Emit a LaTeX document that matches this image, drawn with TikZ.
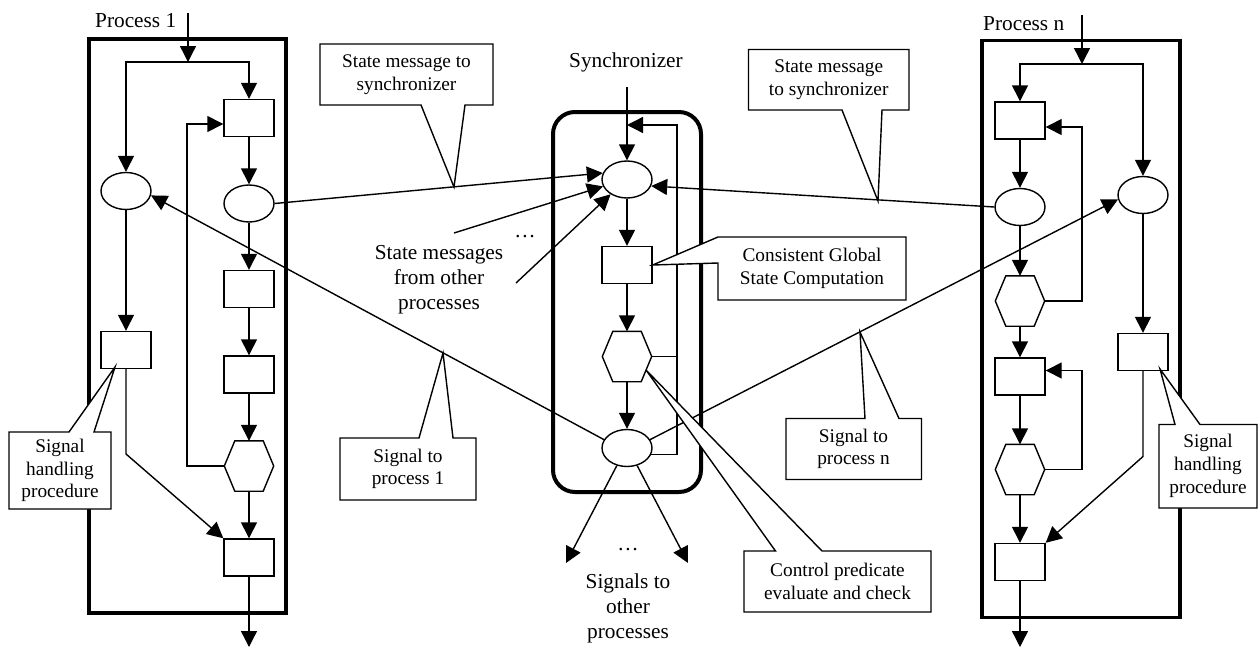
\documentclass[tikz,border=0pt]{standalone}
\usepackage{fontspec}
\setmainfont{Liberation Serif}
\usetikzlibrary{arrows.meta,shapes.geometric}

% outline of a flat-topped hexagon drawn over a rectangular node
\newcommand\drawhexagon[1]{%
  \draw[ln,fill=white] (#1.west) -- ([xshift=10.5pt]#1.north west) -- ([xshift=-10.5pt]#1.north east)
    -- (#1.east) -- ([xshift=-10.5pt]#1.south east) -- ([xshift=10.5pt]#1.south west) -- cycle;}

\begin{document}
\begin{tikzpicture}[x=1pt,y=-1pt,
  ln/.style={line width=1.4pt},
  arr/.style={ln,-{Triangle[length=16pt,width=16pt]}},
  box/.style={draw,ln,fill=white,minimum width=50pt,minimum height=37pt,inner sep=0pt},
  oval/.style={ellipse,draw,ln,fill=white,minimum width=50pt,minimum height=37pt,inner sep=0pt},
  hexa/.style={rectangle,minimum width=49pt,minimum height=50pt,inner sep=0pt},
  pframe/.style={line width=3.3pt},
  balloon/.style={draw,ln,fill=white},
  ctext/.style={align=center,font=\fontsize{19.3}{22.7}\selectfont,inner sep=0pt},
  freetext/.style={align=center,font=\fontsize{21.3}{25}\selectfont,inner sep=0pt}]
\useasboundingbox (0,0) rectangle (1259,648);

% ---------- frames ----------
\draw[pframe] (89,39) rectangle (286,613);
\draw[pframe] (982,40.5) rectangle (1180,617.5);
\draw[line width=4pt,rounded corners=22pt] (553,112) rectangle (701,492);

% ---------- Process 1 ----------
\node[box]  (p1a) at (249,118) {};
\node[oval] (p1e1) at (126,191) {};
\node[oval] (p1e2) at (249,203.5) {};
\node[box]  (p1b) at (249,289) {};
\node[box]  (p1s) at (126,350) {};
\node[box]  (p1c) at (249,374.5) {};
\node[hexa] (p1h) at (249,466) {};
\drawhexagon{p1h}
\node[box]  (p1d) at (249,557.5) {};
\coordinate (p1in) at (188,13);
\coordinate (p1fork) at (188,62);
\coordinate (p1loop) at (187,124);
\coordinate (p1bend) at (126,454);
\coordinate (p1out) at (249,647);

\draw[arr] (p1in) -- (p1fork);
\draw[arr] (p1fork) -| (p1e1);
\draw[arr] (p1fork) -| (p1a);
\draw[arr] (p1a) -- (p1e2);
\draw[arr] (p1e2) -- (p1b);
\draw[arr] (p1b) -- (p1c);
\draw[arr] (p1c) -- (p1h);
\draw[arr] (p1h) -- (p1d);
\draw[arr] (p1d) -- (p1out);
\draw[arr] (p1h.west) -| (p1loop) -- (p1loop -| p1a.west);
\draw[arr] (p1e1) -- (p1s);
\draw[arr] (p1s) -- (p1bend) -- (p1d.north west);

% ---------- Synchronizer ----------
\node[oval] (sa) at (627,179.5) {};
\node[box]  (sb) at (627,265) {};
\node[hexa] (sc) at (627,356.5) {};
\drawhexagon{sc}
\node[oval] (sd) at (627,448) {};
\coordinate (sin) at (627,87);
\coordinate (sloop) at (677,125);
\coordinate (sm1) at (454,233);
\coordinate (sm2) at (516,283);
\coordinate (so1) at (566,563);
\coordinate (so2) at (688,563);

\draw[arr] (sin) -- (sa);
\draw[arr] (sa) -- (sb);
\draw[arr] (sb) -- (sc);
\draw[arr] (sc) -- (sd);
\draw[arr] (sd.-15) -| (sloop) -- (sloop -| sin);
\draw[ln] (sc.east) -- (sc.east -| sloop);
\draw[arr] (sm1) -- (sa.196);
\draw[arr] (sm2) -- (sa.222);
\draw[arr] (sd.240) -- (so1);
\draw[arr] (sd.300) -- (so2);

% ---------- Process n ----------
\node[box]  (pna) at (1020,120.5) {};
\node[oval] (pne1) at (1143,195) {};
\node[oval] (pne2) at (1020,207) {};
\node[hexa] (pnh1) at (1020,301) {};
\drawhexagon{pnh1}
\node[box]  (pnb) at (1020,376.5) {};
\node[hexa] (pnh2) at (1020,469.5) {};
\drawhexagon{pnh2}
\node[box]  (pnc) at (1020,562) {};
\node[box]  (pns) at (1143,352) {};
\coordinate (pnin) at (1082,15);
\coordinate (pnfork) at (1082,64);
\coordinate (pnloopa) at (1082,127);
\coordinate (pnloopb) at (1082,370.5);
\coordinate (pnbend) at (1143,456.5);
\coordinate (pnout) at (1020,647);

\draw[arr] (pnin) -- (pnfork);
\draw[arr] (pnfork) -| (pna);
\draw[arr] (pnfork) -| (pne1);
\draw[arr] (pna) -- (pne2);
\draw[arr] (pne2) -- (pnh1);
\draw[arr] (pnh1) -- (pnb);
\draw[arr] (pnb) -- (pnh2);
\draw[arr] (pnh2) -- (pnc);
\draw[arr] (pnc) -- (pnout);
\draw[arr] (pnh1.east) -| (pnloopa) -- (pnloopa -| pna.east);
\draw[arr] (pnh2.east) -| (pnloopb) -- (pnloopb -| pnb.east);
\draw[arr] (pne1) -- (pns);
\draw[arr] (pns) -- (pnbend) -- (pnc.north east);

% ---------- messages between processes and synchronizer ----------
\draw[arr] (p1e2.east) -- (sa.165);
\draw[arr] (pne2.west) -- (sa.-15);
\draw[arr] (sd.160) -- (p1e1.-10);
\draw[arr] (sd.20) -- (pne1.190);

% ---------- free labels ----------
\node[freetext,anchor=base west] (lp1) at (95,27) {Process 1};
\node[freetext,anchor=base west] (lpn) at (983,30) {Process n};
\node[freetext,anchor=base] (lsync) at (626,67) {Synchronizer};
\node[freetext] (lsm) at (439,280) {State messages\\from other\\processes};
\node[freetext] (lso) at (628,608) {Signals to\\other\\processes};
\node[freetext,anchor=base] (dots1) at (525,237) {\dots};
\node[freetext,anchor=base] (dots2) at (628,550) {\dots};

% ---------- callouts ----------
\draw[balloon] (320,44) -- (493,44) -- (493,105) -- (465,105) -- (454,187) -- (421,105) -- (320,105) -- cycle;
\node[ctext] (c1) at (406.5,75) {State message to\\synchronizer};

\draw[balloon] (748.5,49.5) -- (909,49.5) -- (909,110) -- (882,110) -- (878,201) -- (842,110) -- (748.5,110) -- cycle;
\node[ctext] (c2) at (828.7,80) {State message\\to synchronizer};

\draw[balloon] (718,237) -- (906,237) -- (906,300) -- (718,300) -- (718,263) -- (sb.east) -- cycle;
\node[ctext] (c3) at (812,268.5) {Consistent Global\\State Computation};

\draw[balloon] (340,438) -- (419,438) -- (443,353) -- (453,438) -- (476,438) -- (476,500) -- (340,500) -- cycle;
\node[ctext] (c4) at (408,469) {Signal to\\process 1};

\draw[balloon] (786,418.5) -- (865,418.5) -- (860,332) -- (899,418.5) -- (921.5,418.5) -- (921.5,479.5) -- (786,479.5) -- cycle;
\node[ctext] (c5) at (853.5,449) {Signal to\\process n};

\draw[balloon] (744,551) -- (775.5,551) -- (646,370) -- (822,551) -- (931,551) -- (931,612) -- (744,612) -- cycle;
\node[ctext] (c6) at (837.5,581.5) {Control predicate\\evaluate and check};

\draw[balloon] (9,432) -- (69,432) -- (115,367) -- (94,432) -- (111,432) -- (111,509) -- (9,509) -- cycle;
\node[ctext] (c7) at (60,470.5) {Signal\\handling\\procedure};

\draw[balloon] (1159,424.5) -- (1175,424.5) -- (1160,369) -- (1200,424.5) -- (1257,424.5) -- (1257,508) -- (1159,508) -- cycle;
\node[ctext] (c8) at (1208,466) {Signal\\handling\\procedure};
\end{tikzpicture}
\end{document}
